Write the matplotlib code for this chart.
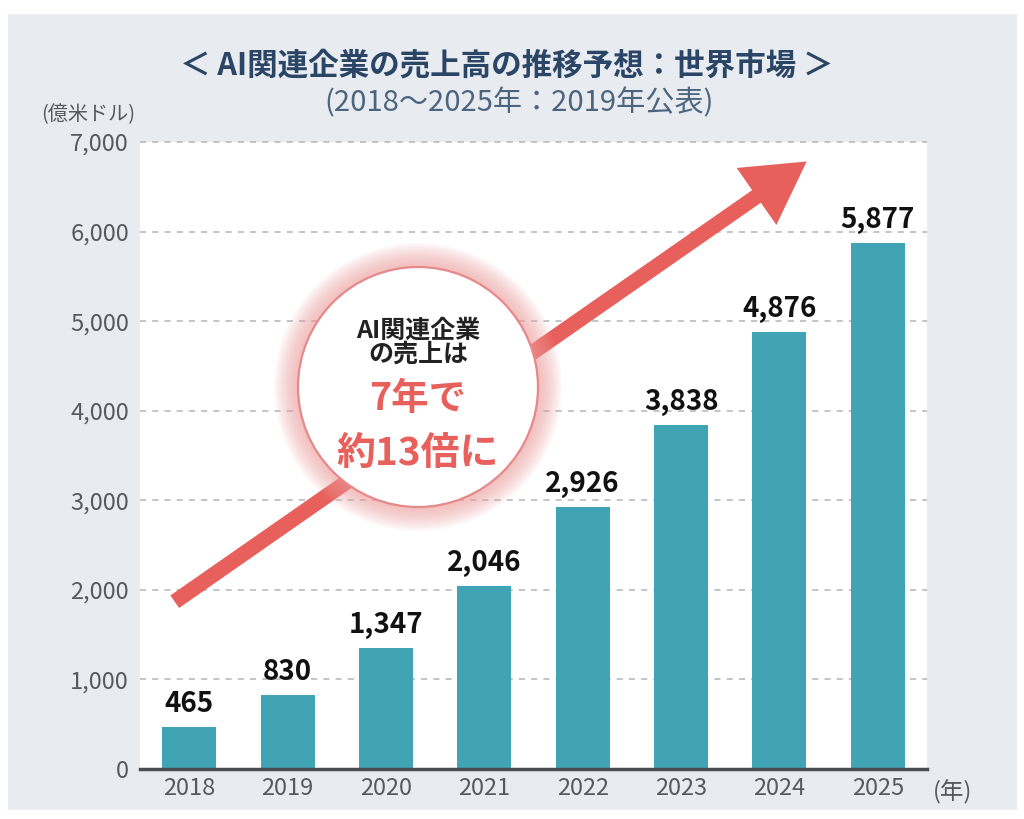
import matplotlib
matplotlib.use("Agg")
import matplotlib.pyplot as plt
from matplotlib.patches import Rectangle, Ellipse

plt.rcParams['font.family'] = ['Noto Sans CJK JP', 'DejaVu Sans']

years = ["2018", "2019", "2020", "2021", "2022", "2023", "2024", "2025"]
sales = [465, 830, 1347, 2046, 2926, 3838, 4876, 5877]
y_ticks = [0, 1000, 2000, 3000, 4000, 5000, 6000, 7000]

title = "＜ AI関連企業の売上高の推移予想：世界市場 ＞"
subtitle = "(2018～2025年：2019年公表)"
unit_label = "(億米ドル)"
x_unit = "(年)"
bubble_small = "AI関連企業\nの売上は"
bubble_big1 = "7年で"
bubble_big2 = "約13倍に"

bar_color = "#41a4b5"
panel_color = "#e8ebf0"
red = "#e8605c"
navy = "#2b4566"
gray_text = "#555a60"

W, H = 1024, 819
fig = plt.figure(figsize=(W / 100, H / 100), dpi=100, facecolor="white")

# gray panel behind everything
fig.patches.append(Rectangle((8 / W, 1 - 810 / H), (1017 - 8) / W, (810 - 14) / H,
                             transform=fig.transFigure, facecolor=panel_color,
                             edgecolor="none", zorder=-5))

ax = fig.add_axes([140 / W, 1 - 769 / H, (927 - 140) / W, (769 - 142) / H])
ax.set_facecolor("white")

x = list(range(len(years)))
ax.bar(x, sales, width=0.55, color=bar_color, zorder=3)
for xi, v in zip(x, sales):
    ax.text(xi, v + 100, f"{v:,}", ha="center", va="bottom", fontsize=20,
            fontweight="bold", color="#111111", zorder=5)

ax.set_xlim(-0.5, 7.5)
ax.set_ylim(0, 7000)
ax.set_yticks(y_ticks)
ax.set_yticklabels([f"{t:,}" for t in y_ticks])
ax.set_xticks(x)
ax.set_xticklabels(years)
ax.tick_params(axis="both", length=0, labelsize=17, colors=gray_text)
ax.tick_params(axis="x", pad=6)
ax.tick_params(axis="y", pad=8)

for t in y_ticks[1:]:
    ax.plot([-0.5, 7.5], [t, t], linestyle=(0, (4, 4)), color="#b0b4ba",
            linewidth=1.1, zorder=1, clip_on=False)

for s in ["top", "right", "left"]:
    ax.spines[s].set_visible(False)
ax.spines["bottom"].set_color("#4a4d52")
ax.spines["bottom"].set_linewidth(2.5)
ax.spines["bottom"].set_zorder(6)

# big arrow
ax.annotate("", xy=(6.3, 6800), xytext=(-0.17, 1850),
            arrowprops=dict(arrowstyle="simple,head_width=2.5,head_length=2.2,tail_width=0.55",
                            color=red, linewidth=0, mutation_scale=20),
            zorder=4)

# glowing circle
cx, cy, r = 418, 387, 120
for i in range(16):
    rr = r + 24 - i * 1.5
    fig.patches.append(Ellipse((cx / W, 1 - cy / H), 2 * rr / W, 2 * rr / H,
                               transform=fig.transFigure, facecolor="#f4a0a0",
                               alpha=0.06, edgecolor="none", zorder=7))
fig.patches.append(Ellipse((cx / W, 1 - cy / H), 2 * r / W, 2 * r / H,
                           transform=fig.transFigure, facecolor="white",
                           edgecolor="#e58a8a", linewidth=1.6, zorder=8))

fig.text(cx / W, 1 - 343 / H, bubble_small, ha="center", va="center",
         fontsize=18, fontweight="bold", color="#222222", linespacing=1.0, zorder=9)
fig.text(cx / W, 1 - 398 / H, bubble_big1, ha="center", va="center",
         fontsize=27, fontweight="bold", color=red, zorder=9)
fig.text(cx / W, 1 - 453 / H, bubble_big2, ha="center", va="center",
         fontsize=28, fontweight="bold", color=red, zorder=9)

# titles and unit labels
fig.text(507 / W, 1 - 66 / H, title, ha="center", va="center", fontsize=22,
         fontweight="bold", color=navy)
fig.text(519 / W, 1 - 103 / H, subtitle, ha="center", va="center", fontsize=21,
         color="#4e6580")
fig.text(88 / W, 1 - 115 / H, unit_label, ha="center", va="center", fontsize=14.5,
         color=gray_text)
fig.text(953 / W, 1 - 792 / H, x_unit, ha="center", va="center", fontsize=17,
         color=gray_text)

fig.savefig("out.png", dpi=100, facecolor="white")
